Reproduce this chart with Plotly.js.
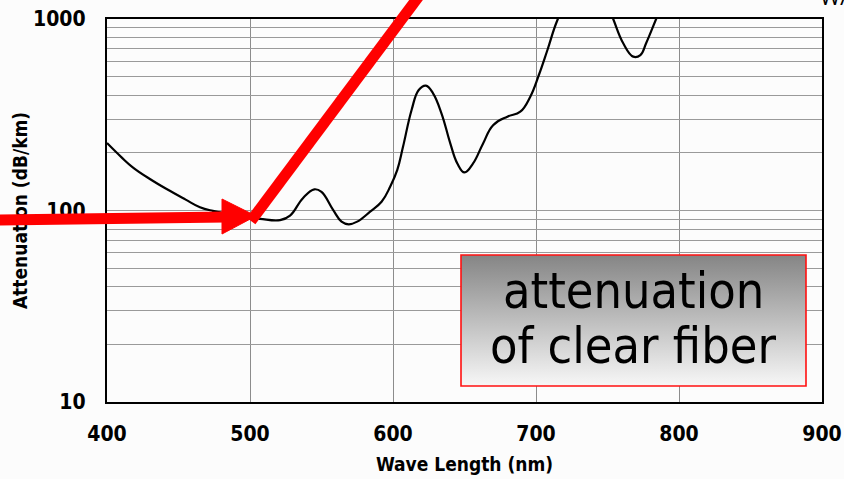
<!DOCTYPE html>
<html><head><meta charset="utf-8">
<script src="https://cdn.plot.ly/plotly-3.0.1.min.js"></script>
<style>
html,body{margin:0;padding:0;background:#fcfcfc}
#wrap{position:relative;width:844px;height:479px}
#chart,#overlay{position:absolute;left:0;top:0;width:844px;height:479px}
#overlay{pointer-events:none}
</style>
</head><body>
<div id="wrap"><div id="chart"></div><div id="overlay"></div></div>
<script>
// Data
const wavelength = [400, 410, 418, 430, 442, 455, 465, 474, 485, 495, 507, 521, 528, 537, 545, 550, 558, 564, 569, 575, 584, 592, 598, 603, 607, 613, 618, 623, 628, 634, 640, 645, 650, 656, 663, 670, 680, 689, 696, 702, 708, 715, 725, 738, 748, 754, 761, 768, 773, 777, 784, 792];
const attenuation = [225, 190, 168, 146, 129, 114, 104, 99.5, 96, 93, 90.5, 89, 94, 116, 129, 125, 101, 87.5, 84.7, 87.5, 98.6, 111, 133, 163, 215, 335, 426, 449, 409, 320, 225, 176, 158, 176, 224, 279, 309, 328, 393, 510, 689, 988, 1400, 1600, 1300, 1000, 747, 636, 648, 747, 1000, 1400];
const xTickVals = [400, 500, 600, 700, 800, 900];
const yTickVals = [10, 20, 30, 40, 50, 60, 70, 80, 90, 100, 200, 300, 400, 500, 600, 700, 800, 900, 1000];
const yTickText = ['10', '', '', '', '', '', '', '', '', '100', '', '', '', '', '', '', '', '', '1000'];
const xTitle = 'Wave Length (nm)';
const yTitle = 'Attenuation (dB/km)';
const boxLines = ['attenuation', 'of clear fiber'];
const cornerText = 'WA';

// layout geometry (pixels)
const L = 107, R = 22, T = 19, B = 77, FW = 844, FH = 479;
const W = FW - L - R, H = FH - T - B;
const px = x => (x - L) / W;
const py = y => (T + H - y) / H;

const fam = '"Liberation Sans Narrow", "Arial Narrow", "DejaVu Sans Condensed", sans-serif';
const tickFont = {family: fam, size: 21, color: '#000', weight: 'bold'};
const titleFont = {family: fam, size: 19, color: '#000', weight: 'bold'};
const boxFont = {family: '"DejaVu Sans Condensed", "Open Sans", sans-serif', size: 50, color: '#000'};

const gradSvg = "<svg xmlns='http://www.w3.org/2000/svg' width='10' height='100' preserveAspectRatio='none'><defs><linearGradient id='g' x1='0' y1='0' x2='0' y2='1'><stop offset='0' stop-color='#858585'/><stop offset='1' stop-color='#f7f7f7'/></linearGradient></defs><rect width='10' height='100' fill='url(#g)'/></svg>";
const gradUri = 'data:image/svg+xml;charset=utf-8,' + encodeURIComponent(gradSvg);

const box = {x0: 461, x1: 806, y0: 255, y1: 386};

const trace = {
  x: wavelength, y: attenuation, type: 'scatter', mode: 'lines',
  line: {color: '#000', width: 2.2, shape: 'spline', smoothing: 1.2},
  hoverinfo: 'skip'
};

const layout = {
  width: FW, height: FH,
  margin: {l: L, r: R, t: T, b: B, pad: 0},
  paper_bgcolor: '#fcfcfc', plot_bgcolor: '#fcfcfc',
  showlegend: false,
  xaxis: {
    range: [400, 900], tickvals: xTickVals, ticktext: xTickVals.map(String),
    showgrid: true, gridcolor: '#8c8c8c', gridwidth: 1,
    showline: true, linecolor: '#000', linewidth: 2.2, mirror: true,
    ticks: '', ticklabelstandoff: 12, zeroline: false,
    tickfont: tickFont,
    title: {text: xTitle, font: titleFont, standoff: 12}
  },
  yaxis: {
    type: 'log', range: [1, 3], tickvals: yTickVals, ticktext: yTickText,
    showgrid: true, gridcolor: '#9a9a9a', gridwidth: 1,
    showline: true, linecolor: '#000', linewidth: 2.2, mirror: true,
    ticks: '', ticklabelstandoff: 15, zeroline: false,
    tickfont: tickFont,
    title: {text: yTitle, font: titleFont, standoff: 0}
  },
  images: [{
    source: gradUri, xref: 'paper', yref: 'paper',
    x: px(box.x0), y: py(box.y0), sizex: px(box.x1) - px(box.x0), sizey: py(box.y0) - py(box.y1),
    xanchor: 'left', yanchor: 'top', sizing: 'stretch', layer: 'above'
  }],
  shapes: [{
    type: 'rect', xref: 'paper', yref: 'paper',
    x0: px(box.x0), x1: px(box.x1), y0: py(box.y1), y1: py(box.y0),
    line: {color: '#ff1010', width: 1.6}, fillcolor: 'rgba(0,0,0,0)', layer: 'above'
  }],
  annotations: [
    {text: boxLines[0], xref: 'paper', yref: 'paper', x: px(633), y: py(291), xanchor: 'center', yanchor: 'middle', showarrow: false, font: boxFont},
    {text: boxLines[1], xref: 'paper', yref: 'paper', x: px(633), y: py(346), xanchor: 'center', yanchor: 'middle', showarrow: false, font: boxFont},
    {text: cornerText, xref: 'paper', yref: 'paper', x: px(818), y: py(-4), xanchor: 'left', yanchor: 'middle', showarrow: false,
     font: {family: '"Open Sans", sans-serif', size: 22, color: '#000'}}
  ]
};

Plotly.newPlot('chart', [trace], layout, {staticPlot: true, displayModeBar: false});

// red arrow overlay, drawn on top of everything
const ox = x => x / FW;
const oy = y => 1 - y / FH;
const red = '#ff0000';
const overlayLayout = {
  width: FW, height: FH, margin: {l: 0, r: 0, t: 0, b: 0, pad: 0},
  paper_bgcolor: 'rgba(0,0,0,0)', plot_bgcolor: 'rgba(0,0,0,0)',
  xaxis: {visible: false, range: [0, 1]}, yaxis: {visible: false, range: [0, 1]},
  shapes: [
    {type: 'line', xref: 'paper', yref: 'paper', x0: ox(-2), y0: oy(220), x1: ox(226), y1: oy(217), line: {color: red, width: 11}},
    {type: 'path', xref: 'paper', yref: 'paper',
     path: 'M ' + ox(222) + ',' + oy(199) + ' L ' + ox(222) + ',' + oy(234) + ' L ' + ox(256) + ',' + oy(216) + ' Z',
     fillcolor: red, line: {color: red, width: 1}},
    {type: 'line', xref: 'paper', yref: 'paper', x0: ox(251), y0: oy(221), x1: ox(422), y1: oy(-8), line: {color: red, width: 11}}
  ]
};
Plotly.newPlot('overlay', [], overlayLayout, {staticPlot: true, displayModeBar: false});
</script>
</body></html>
